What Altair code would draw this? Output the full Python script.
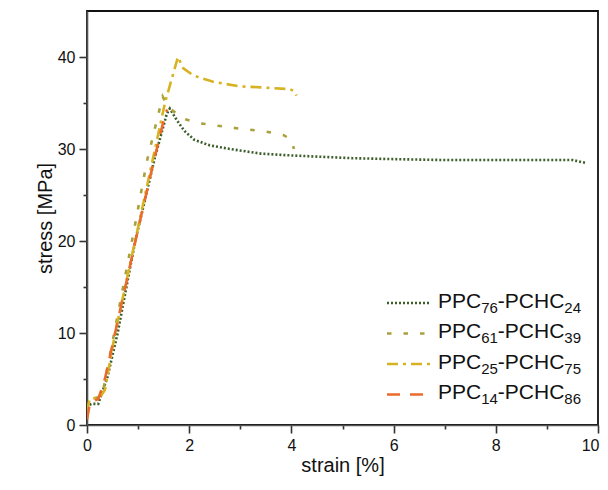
import altair as alt
import pandas as pd

# series labels split as (main, subscript, main, subscript)
label_parts = [("PPC", "76", "-PCHC", "24"),
               ("PPC", "61", "-PCHC", "39"),
               ("PPC", "25", "-PCHC", "75"),
               ("PPC", "14", "-PCHC", "86")]
names = ["".join(p) for p in label_parts]
colors = ["#3d5f2c", "#a9a13c", "#d7b223", "#ec6a2a"]
dashes = [[2, 2], [4.5, 12], [11, 5, 3, 5], [13, 10]]

s76_x = [0.05, 0.1, 0.22, 0.4, 0.6, 0.94, 1.33, 1.56, 1.62, 1.75, 1.9, 2.1, 2.4, 2.8, 3.4, 4.0, 5.2, 6.0, 7.0, 8.0, 9.0, 9.5, 9.75]
s76_y = [2.2, 2.3, 2.3, 5.2, 10.0, 19.9, 29.1, 33.8, 34.4, 33.2, 32.0, 31.0, 30.4, 30.0, 29.5, 29.3, 29.0, 28.9, 28.8, 28.8, 28.8, 28.8, 28.5]

s61_x = [0, 0.05, 0.2, 0.3, 0.87, 1.17, 1.48, 1.6, 1.88, 2.2, 2.86, 3.5, 3.85, 4.0, 4.05]
s61_y = [1.5, 2.8, 3.0, 3.3, 19.7, 28.6, 35.7, 34.5, 33.3, 32.8, 32.3, 31.9, 31.5, 31.0, 30.0]

s25_x = [0, 0.05, 0.25, 0.35, 0.55, 1.0, 1.35, 1.53, 1.78, 1.88, 2.08, 2.47, 3.0, 3.4, 3.97, 4.05, 4.1]
s25_y = [1.5, 2.8, 3.0, 3.8, 10.0, 21.5, 30.5, 35.1, 40.0, 38.8, 38.0, 37.3, 36.8, 36.7, 36.5, 36.3, 35.8]

s14_x = [0, 0.06, 0.22, 0.35, 0.55, 1.0, 1.3, 1.53, 1.57]
s14_y = [0.6, 2.5, 2.8, 5.0, 10.0, 21.3, 28.5, 33.8, 34.3]

rows = []
for i, (xs, ys) in enumerate([(s76_x, s76_y), (s61_x, s61_y), (s25_x, s25_y), (s14_x, s14_y)]):
    for j, (a, b) in enumerate(zip(xs, ys)):
        rows.append({"series": names[i], "idx": j, "strain": a, "stress": b})
df = pd.DataFrame(rows)

FONT = "Liberation Sans"
MAIN_FS, SUB_FS = 21, 15
# Arial advance widths (em)
W = {"P": 0.667, "C": 0.722, "H": 0.722, "-": 0.333}
for d in "0123456789":
    W[d] = 0.556

# legend layout (plot-area pixel coordinates)
LX0, LX1, TX = 300, 343, 351
ROW0, ROWSTEP = 289, 30.5

leg_lines = pd.DataFrame([{"series": names[i], "ly": ROW0 + 3 + i * ROWSTEP} for i in range(4)])
pieces = []
for i, parts in enumerate(label_parts):
    x = TX
    base = ROW0 + 7.5 + i * ROWSTEP
    for k, p in enumerate(parts):
        sub = k % 2 == 1
        fs = SUB_FS if sub else MAIN_FS
        pieces.append({"t": p, "tx": x, "ty": base + (5 if sub else 0), "fs": fs})
        x += sum(W[c] for c in p) * fs
pieces = pd.DataFrame(pieces)

color_scale = alt.Scale(domain=names, range=colors)
dash_scale = alt.Scale(domain=names, range=dashes)

lines = alt.Chart(df).mark_line(strokeWidth=2.6, clip=True).encode(
    x=alt.X("strain:Q", scale=alt.Scale(domain=[0, 10], nice=False),
            axis=alt.Axis(title="strain [%]", values=list(range(0, 11)),
                          labelExpr="datum.value % 2 == 0 ? datum.label : ''",
                          tickSize={"condition": {"test": "datum.value % 2 == 0", "value": 8}, "value": 4},
                          labelAlign={"condition": {"test": "datum.value == 10", "value": "right"}, "value": "center"},
                          labelOffset={"condition": {"test": "datum.value == 10", "value": 1}, "value": 0},
                          labelFlush=False, titlePadding=2)),
    y=alt.Y("stress:Q", scale=alt.Scale(domain=[0, 45], nice=False),
            axis=alt.Axis(title="stress [MPa]", values=list(range(0, 45, 5)),
                          labelExpr="datum.value % 10 == 0 ? datum.label : ''",
                          tickSize={"condition": {"test": "datum.value % 10 == 0", "value": 8}, "value": 4},
                          labelFlush=False, titlePadding=2)),
    color=alt.Color("series:N", scale=color_scale, legend=None),
    strokeDash=alt.StrokeDash("series:N", scale=dash_scale, legend=None),
    order=alt.Order("idx:Q"),
    detail="series:N",
)

leg_rules = alt.Chart(leg_lines).mark_rule(strokeWidth=2.6).encode(
    x=alt.value(LX0), x2=alt.value(LX1),
    y=alt.Y("ly:Q", scale=None),
    color=alt.Color("series:N", scale=color_scale, legend=None),
    strokeDash=alt.StrokeDash("series:N", scale=dash_scale, legend=None),
)

leg_text = alt.Chart(pieces).mark_text(align="left", baseline="alphabetic", font=FONT, color="#111").encode(
    x=alt.X("tx:Q", scale=None),
    y=alt.Y("ty:Q", scale=None),
    text="t:N",
    size=alt.Size("fs:Q", scale=None, legend=None),
)

chart = alt.layer(lines, leg_rules, leg_text).properties(
    width=511, height=414,
    autosize=alt.AutoSizeParams(type="none"),
    padding={"left": 79, "top": 3, "right": 2, "bottom": 60},
    background="white",
).configure_view(
    stroke="#111", strokeWidth=1.8
).configure_axis(
    labelFont=FONT, titleFont=FONT, labelFontSize=16, titleFontSize=20,
    titleFontWeight="normal", labelColor="#111", titleColor="#111",
    domainColor="#555", domainWidth=1.6, tickColor="#333", tickWidth=1.6,
    grid=False, labelPadding=4,
)

chart.save("out.html", embed_options={"renderer": "svg", "actions": False})
